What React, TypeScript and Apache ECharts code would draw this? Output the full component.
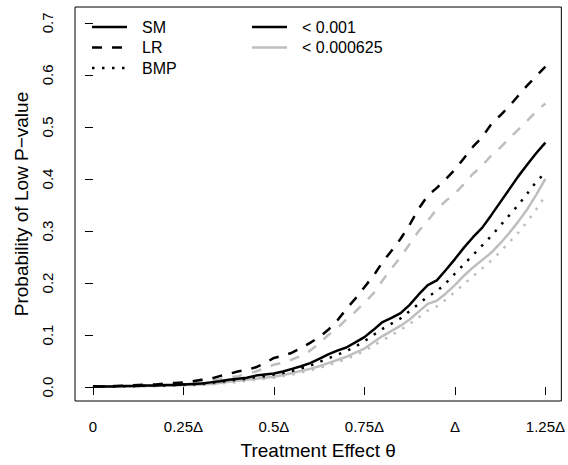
import React, { useEffect, useRef } from "react";
import * as echarts from "echarts";

const theta = [
  0, 0.025, 0.05, 0.075, 0.1, 0.125, 0.15, 0.175, 0.2, 0.225, 0.25, 0.275, 0.3, 0.325, 0.35, 0.375, 0.4,
  0.425, 0.45, 0.475, 0.5, 0.525, 0.55, 0.575, 0.6, 0.625, 0.65, 0.675, 0.7, 0.725, 0.75, 0.775, 0.8,
  0.825, 0.85, 0.875, 0.9, 0.925, 0.95, 0.975, 1.0, 1.025, 1.05, 1.075, 1.1, 1.125, 1.15, 1.175, 1.2,
  1.225, 1.25,
];

const lrBlack = [
  0.001, 0.001, 0.002, 0.002, 0.003, 0.004, 0.005, 0.005, 0.007, 0.008, 0.009, 0.011, 0.014, 0.016, 0.021,
  0.025, 0.03, 0.033, 0.038, 0.046, 0.056, 0.06, 0.066, 0.075, 0.085, 0.096, 0.11, 0.128, 0.15, 0.17,
  0.192, 0.214, 0.24, 0.262, 0.285, 0.312, 0.343, 0.368, 0.383, 0.4, 0.418, 0.44, 0.462, 0.48, 0.505, 0.522,
  0.54, 0.56, 0.58, 0.598, 0.616,
];
const lrGray = [
  0.001, 0.001, 0.001, 0.002, 0.002, 0.003, 0.003, 0.004, 0.005, 0.006, 0.007, 0.009, 0.01, 0.012, 0.015,
  0.018, 0.021, 0.025, 0.03, 0.036, 0.043, 0.047, 0.053, 0.06, 0.07, 0.084, 0.1, 0.113, 0.13, 0.145,
  0.162, 0.18, 0.205, 0.228, 0.25, 0.275, 0.3, 0.32, 0.342, 0.358, 0.372, 0.39, 0.41, 0.425, 0.445,
  0.46, 0.478, 0.495, 0.512, 0.53, 0.545,
];
const smBlack = [
  0.001, 0.001, 0.001, 0.002, 0.002, 0.002, 0.003, 0.003, 0.004, 0.004, 0.005, 0.006, 0.007, 0.009, 0.011,
  0.014, 0.016, 0.018, 0.022, 0.024, 0.026, 0.03, 0.035, 0.04, 0.046, 0.054, 0.063, 0.07, 0.076, 0.086,
  0.096, 0.11, 0.125, 0.133, 0.142, 0.158, 0.178, 0.196, 0.205, 0.225, 0.246, 0.268, 0.288, 0.306, 0.33,
  0.355, 0.38, 0.405, 0.428, 0.45, 0.47,
];
const smGray = [
  0.001, 0.001, 0.001, 0.001, 0.001, 0.002, 0.002, 0.002, 0.003, 0.003, 0.004, 0.004, 0.005, 0.006, 0.008,
  0.01, 0.012, 0.014, 0.016, 0.018, 0.02, 0.023, 0.027, 0.031, 0.035, 0.04, 0.046, 0.052, 0.058, 0.066,
  0.074, 0.086, 0.098, 0.108, 0.118, 0.13, 0.145, 0.16, 0.166, 0.18, 0.196, 0.214, 0.23, 0.244, 0.258, 0.276,
  0.296, 0.318, 0.342, 0.37, 0.4,
];
const bmpBlack = [
  0.001, 0.001, 0.001, 0.001, 0.002, 0.002, 0.003, 0.003, 0.003, 0.004, 0.005, 0.005, 0.006, 0.008, 0.01,
  0.012, 0.014, 0.016, 0.019, 0.021, 0.024, 0.027, 0.031, 0.036, 0.041, 0.048, 0.055, 0.062, 0.069, 0.078,
  0.088, 0.1, 0.112, 0.122, 0.132, 0.146, 0.16, 0.174, 0.184, 0.2, 0.218, 0.236, 0.254, 0.272, 0.29, 0.31,
  0.33, 0.35, 0.372, 0.395, 0.412,
];
const bmpGray = [
  0.001, 0.001, 0.001, 0.001, 0.001, 0.001, 0.002, 0.002, 0.002, 0.003, 0.003, 0.004, 0.004, 0.005, 0.007,
  0.008, 0.01, 0.012, 0.014, 0.016, 0.018, 0.021, 0.024, 0.028, 0.032, 0.037, 0.042, 0.048, 0.054, 0.061,
  0.069, 0.08, 0.09, 0.1, 0.11, 0.121, 0.134, 0.147, 0.155, 0.168, 0.183, 0.198, 0.213, 0.228, 0.243,
  0.26, 0.278, 0.297, 0.318, 0.342, 0.368,
];

const xTickValues = [0, 0.25, 0.5, 0.75, 1, 1.25];
const xTickLabels = ["0", "0.25Δ", "0.5Δ", "0.75Δ", "Δ", "1.25Δ"];
const yTickValues = [0, 0.1, 0.2, 0.3, 0.4, 0.5, 0.6, 0.7];
const yTickLabels = ["0.0", "0.1", "0.2", "0.3", "0.4", "0.5", "0.6", "0.7"];

const methodNames = ["SM", "LR", "BMP"];
const levelNames = ["< 0.001", "< 0.000625"];

const BLACK = "#000000";
const GRAY = "#bebebe";
const FONT = "'Liberation Sans', Arial, Helvetica, sans-serif";
const DASH = [10, 10];
const DOT = [2.5, 7.5];

export default function App() {
  const ref = useRef<HTMLDivElement>(null);
  useEffect(() => {
    if (!ref.current) return;
    const chart = echarts.init(ref.current, undefined, { renderer: "svg" });
    const mk = (name: string, vals: number[], color: string, type: any) => ({
      name,
      type: "line",
      data: theta.map((t, i) => [t, vals[i]]),
      showSymbol: false,
      symbol: "none",
      lineStyle: { color, width: 2.5, type, cap: "butt" },
      z: 2,
    });
    const legendRows = [27, 47.5, 68];
    const styles = ["solid", DASH, DOT];
    const graphics: any[] = [];
    methodNames.forEach((n, i) => {
      graphics.push({
        type: "line",
        shape: { x1: 92, y1: legendRows[i], x2: 127, y2: legendRows[i] },
        style: { stroke: BLACK, lineWidth: 2.5, lineDash: styles[i] === "solid" ? null : styles[i] },
      });
      graphics.push({
        type: "text",
        x: 142,
        y: legendRows[i],
        style: { text: n, fill: "#000", font: `16px ${FONT}`, textVerticalAlign: "middle" },
      });
    });
    levelNames.forEach((n, i) => {
      graphics.push({
        type: "line",
        shape: { x1: 252, y1: legendRows[i], x2: 287, y2: legendRows[i] },
        style: { stroke: i === 0 ? BLACK : GRAY, lineWidth: 2.5 },
      });
      graphics.push({
        type: "text",
        x: 302,
        y: legendRows[i],
        style: { text: n, fill: "#000", font: `16px ${FONT}`, textVerticalAlign: "middle" },
      });
    });

    chart.setOption({
      animation: false,
      backgroundColor: "#ffffff",
      grid: {
        left: 75,
        top: 7,
        width: 488,
        height: 396,
        show: true,
        borderColor: "#000",
        borderWidth: 1,
        backgroundColor: "transparent",
      },
      xAxis: {
        type: "value",
        min: -0.0496,
        max: 1.2941,
        name: "Treatment Effect θ",
        nameLocation: "middle",
        nameGap: 40,
        nameTextStyle: { fontFamily: FONT, fontSize: 19, color: "#000" },
        axisLine: { show: false },
        splitLine: { show: false },
        axisTick: {
          show: true,
          inside: false,
          length: 8,
          customValues: xTickValues,
          lineStyle: { color: "#000", width: 1 },
        },
        axisLabel: {
          customValues: xTickValues,
          margin: 18,
          fontFamily: FONT,
          fontSize: 15,
          color: "#000",
          formatter: (v: number) => {
            const i = xTickValues.findIndex((x) => Math.abs(x - v) < 1e-6);
            return i >= 0 ? xTickLabels[i] : "";
          },
        },
      },
      yAxis: {
        type: "value",
        min: -0.0268,
        max: 0.7306,
        name: "Probability of Low P\u2212value",
        nameLocation: "middle",
        nameGap: 44,
        nameRotate: 90,
        nameTextStyle: { fontFamily: FONT, fontSize: 19, color: "#000" },
        axisLine: { show: false },
        splitLine: { show: false },
        axisTick: {
          show: true,
          inside: false,
          length: 8,
          customValues: yTickValues,
          lineStyle: { color: "#000", width: 1 },
        },
        axisLabel: {
          customValues: yTickValues,
          rotate: 90,
          margin: 20,
          fontFamily: FONT,
          fontSize: 15,
          color: "#000",
          formatter: (v: number) => {
            const i = yTickValues.findIndex((x) => Math.abs(x - v) < 1e-6);
            return i >= 0 ? yTickLabels[i] : "";
          },
        },
      },
      series: [
        mk("SM < 0.000625", smGray, GRAY, "solid"),
        mk("LR < 0.000625", lrGray, GRAY, DASH),
        mk("BMP < 0.000625", bmpGray, GRAY, DOT),
        mk("SM < 0.001", smBlack, BLACK, "solid"),
        mk("LR < 0.001", lrBlack, BLACK, DASH),
        mk("BMP < 0.001", bmpBlack, BLACK, DOT),
      ],
      graphic: graphics,
    });
    return () => chart.dispose();
  }, []);
  return <div ref={ref} style={{ width: 568, height: 465, position: "absolute", left: 0, top: 0 }} />;
}
